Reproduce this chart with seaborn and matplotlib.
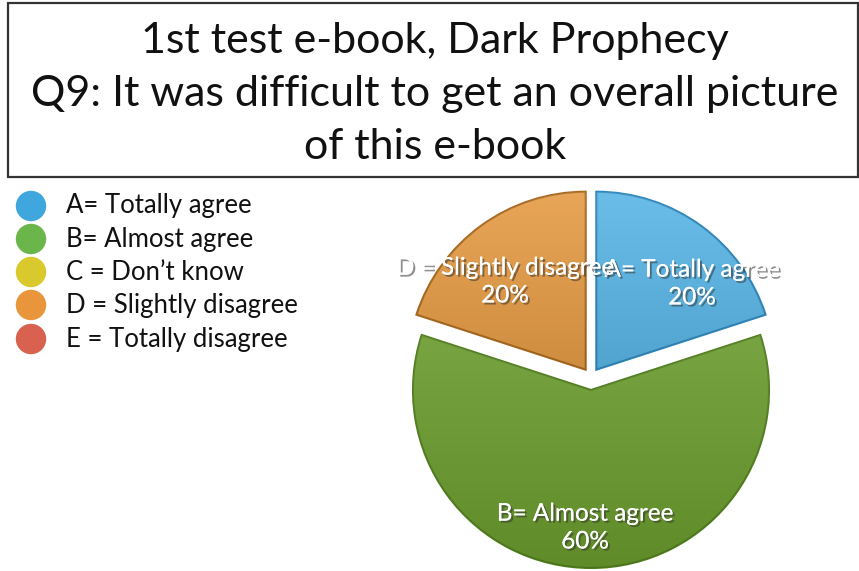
import numpy as np
import matplotlib
matplotlib.use("Agg")
import matplotlib.pyplot as plt
import matplotlib.patheffects as pe
from matplotlib.patches import Rectangle
import seaborn as sns

# ---- data ----
title_lines = [
    "1st test e-book, Dark Prophecy",
    "Q9: It was difficult to get an overall picture",
    "of this e-book",
]
answer_labels = [
    "A= Totally agree",
    "B= Almost agree",
    "C = Don’t know",
    "D = Slightly disagree",
    "E = Totally disagree",
]
answer_shares = [20, 60, 0, 20, 0]
legend_colors = ["#3fa7dd", "#6ab64a", "#d9c92c", "#e8953b", "#d9614f"]
slice_colors = ["#59b6e6", "#6a9a2d", "#d9c92c", "#e69c46", "#d9614f"]
slice_edges = ["#2f86ba", "#517d1e", "#a89a10", "#a8691f", "#a8402f"]

sns.set_theme(style="white")
plt.rcParams["font.family"] = ["Lato", "DejaVu Sans"]

W, H = 859, 571
fig = plt.figure(figsize=(W / 100, H / 100), dpi=100)
ax = fig.add_axes([0, 0, 1, 1])


def Y(y):
    return H - y


# ---- title box ----
ax.add_patch(Rectangle((8, Y(177)), 850, 174, fill=False,
                       edgecolor="#333333", linewidth=1.6))
for txt, base in zip(title_lines, [53, 106, 159]):
    ax.text(435, Y(base), txt, ha="center", va="baseline",
            fontsize=31, color="#111111")

# ---- pie (only non-empty answers) ----
keep = [i for i, v in enumerate(answer_shares) if v > 0]
vals = [answer_shares[i] for i in keep]
explode_px = {0: 9, 1: 13, 3: 9}
wedges, _ = ax.pie(
    vals,
    colors=[slice_colors[i] for i in keep],
    startangle=90,
    counterclock=False,
    explode=[explode_px[i] for i in keep],
    radius=178,
    center=(591, Y(377)),
    frame=True,
    wedgeprops=dict(linewidth=1.5),
)
ax.set_xlim(0, W)
ax.set_ylim(0, H)
ax.set_aspect("equal")
ax.axis("off")

# soft vertical shading inside each wedge
inv = ax.transData.inverted()
cmap = sns.blend_palette(["#000000", "#ffffff"], as_cmap=True)
grad = np.linspace(0, 1, 256).reshape(-1, 1)
for w, i in zip(wedges, keep):
    w.set_edgecolor(slice_edges[i])
    bb = w.get_path().get_extents(w.get_transform())
    (x0, y0), (x1, y1) = inv.transform([[bb.x0, bb.y0], [bb.x1, bb.y1]])
    im = ax.imshow(grad, extent=(x0, x1, y0, y1), origin="lower",
                   cmap=cmap, alpha=0.10, aspect="auto",
                   zorder=w.get_zorder() + 0.1)
    im.set_clip_path(w)

# slice labels
shadow = [pe.withSimplePatchShadow(offset=(1.5, -1.5), shadow_rgbFace="#333333", alpha=0.55),
          pe.Normal()]
label_pos = {0: (692, 284), 1: (585, 528), 3: (505, 282)}
for i in keep:
    x, y = label_pos[i]
    ax.text(x, Y(y), f"{answer_labels[i]}\n{answer_shares[i]}%",
            ha="center", va="center", fontsize=17.5, color="white",
            linespacing=1.4, path_effects=shadow, zorder=10)

# ---- legend ----
leg_y = [206, 239, 272, 305, 339]
sns.scatterplot(x=[31] * len(answer_labels), y=[Y(v) for v in leg_y],
                hue=answer_labels, palette=legend_colors, s=480,
                edgecolor="none", legend=False, ax=ax, zorder=5)
for lab, y in zip(answer_labels, leg_y):
    ax.text(66, Y(y), lab, ha="left", va="center", fontsize=18.5, color="#111111")

ax.set_xlim(0, W)
ax.set_ylim(0, H)
ax.set_aspect("equal")
ax.axis("off")
fig.savefig("out.png", dpi=100)
